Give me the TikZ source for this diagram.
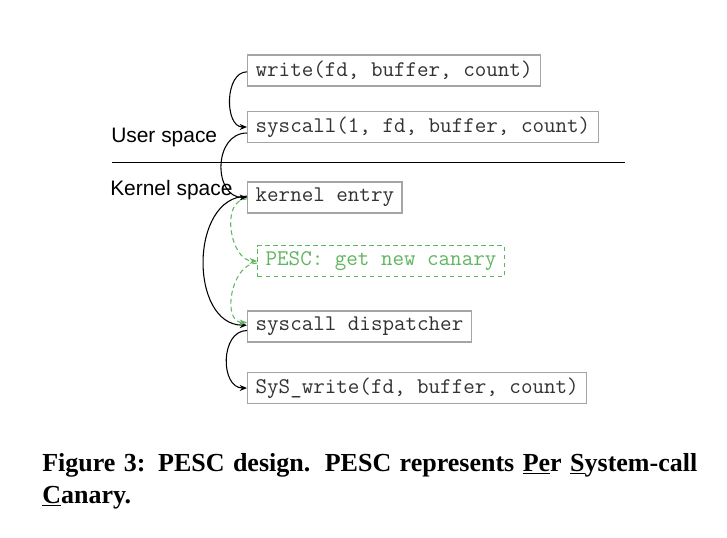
\documentclass[tikz,border=0pt]{standalone}
\usepackage{fontspec}
\setmainfont{Liberation Serif}
\setsansfont{Liberation Sans}
\usetikzlibrary{arrows.meta}
\definecolor{boxgray}{RGB}{165,165,165}
\definecolor{txtgray}{RGB}{50,50,50}
\definecolor{pescgreen}{RGB}{96,182,96}
\tikzset{
  codebox/.style={draw=boxgray, line width=1pt, text=txtgray, anchor=west,
    minimum height=23.25pt, inner xsep=6pt, inner ysep=0pt,
    font=\fontsize{16.8}{18}\selectfont\ttfamily},
  pescbox/.style={codebox, draw=pescgreen, text=pescgreen, dashed, dash pattern=on 3.5pt off 2.5pt},
  flow/.style={-{Stealth[length=5.5pt,width=4.5pt]}, line width=0.8pt, black},
  gflow/.style={-{Stealth[length=5.5pt,width=4.5pt]}, line width=0.8pt, pescgreen, dash pattern=on 3.5pt off 2.5pt},
  spacelbl/.style={anchor=west, inner sep=0pt, font=\fontsize{15.7}{18}\selectfont\sffamily},
  captext/.style={anchor=base west, inner sep=0pt, font=\fontsize{19.5}{23}\selectfont\bfseries}
}
\begin{document}
\begin{tikzpicture}[x=0.75pt, y=-0.75pt]
\useasboundingbox (0,0) rectangle (727,537);
\fill[white] (0,0) rectangle (727,537);

\node[codebox] (write) at (247,70.5) {write(fd, buffer, count)};
\node[codebox] (sysc) at (247,127) {syscall(1, fd, buffer, count)};
\node[codebox] (kentry) at (247,197.5) {kernel entry};
\node[pescbox] (pesc) at (257,261) {PESC: get new canary};
\node[codebox] (disp) at (247,326.5) {syscall dispatcher};
\node[codebox] (syswrite) at (247,388) {SyS\_write(fd, buffer, count)};

\coordinate (lineL) at (112,162.5);
\coordinate (lineR) at (625,162.5);
\draw[line width=0.8pt] (lineL) -- (lineR);

\node[spacelbl] (user) at (111,137) {User space};
\node[spacelbl] (kernel) at (110,190) {Kernel space};

\draw[flow] ([yshift=-1pt]write.west) to[out=180,in=180,looseness=1.05] (sysc.west);
\draw[flow] ([yshift=-4.5pt]sysc.west) to[out=180,in=180,looseness=1.35] (kentry.west);
\draw[flow] ([yshift=1pt]kentry.west) to[out=180,in=180,looseness=1.15] ([yshift=1pt]disp.west);
\draw[gflow] ([yshift=-1pt]kentry.west) to[out=180,in=180,looseness=1.1] (pesc.west);
\draw[gflow] ([yshift=-1.5pt]pesc.west) to[out=180,in=180,looseness=1.1] ([yshift=3pt]disp.west);
\draw[flow] ([yshift=-3pt]disp.west) to[out=180,in=180,looseness=1.2] (syswrite.west);

\node[captext] (cap1) at (42,471) {\makebox[491.25pt][s]{Figure 3: PESC design. PESC represents \underline{Pe}r \underline{S}ystem-call}};
\node[captext] (cap2) at (42,503) {\underline{C}anary.};
\end{tikzpicture}
\end{document}
